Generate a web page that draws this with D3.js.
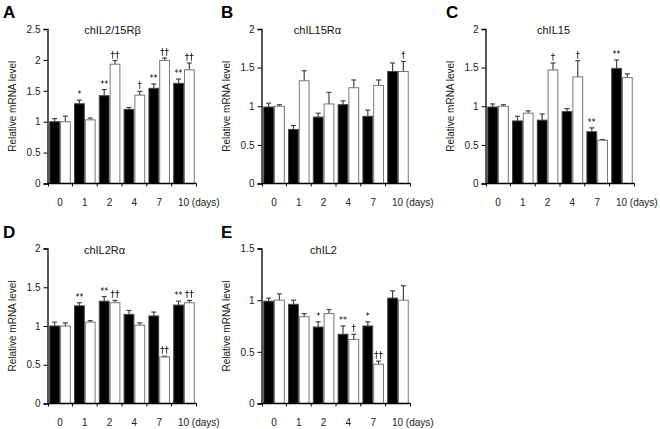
<!DOCTYPE html>
<html><head><meta charset="utf-8">
<script src="https://cdn.jsdelivr.net/npm/d3@7"></script>
<style>body{margin:0;background:#fff}svg{display:block;font-family:"Liberation Sans",Arial,sans-serif}.sig{opacity:0.999;will-change:transform}</style>
</head><body><svg id="c" width="660" height="429"></svg>
<script>
const days = ["0","1","2","4","7","10"];
const panelLetters = ["A","B","C","D","E"];
const titles = ["chIL2/15Rβ","chIL15Rα","chIL15","chIL2Rα","chIL2"];
const yMax = [2.5,2,2,2,1.5];
const yTicks = [[0,0.5,1,1.5,2,2.5],[0,0.5,1,1.5,2],[0,0.5,1,1.5,2],[0,0.5,1,1.5,2],[0,0.5,1,1.5]];

const blackVals = [
  [1.0,1.29,1.42,1.20,1.54,1.62],
  [0.99,0.70,0.86,1.02,0.87,1.45],
  [0.99,0.81,0.82,0.93,0.67,1.49],
  [1.0,1.26,1.32,1.15,1.13,1.27],
  [0.99,0.96,0.74,0.67,0.75,1.02]];
const blackErr = [
  [0.05,0.06,0.10,0.03,0.07,0.07],
  [0.05,0.05,0.05,0.05,0.08,0.11],
  [0.04,0.06,0.08,0.04,0.05,0.11],
  [0.05,0.04,0.06,0.05,0.05,0.05],
  [0.03,0.04,0.05,0.08,0.04,0.07]];
const whiteVals = [
  [1.0,1.03,1.93,1.43,1.99,1.84],
  [1.0,1.33,1.03,1.24,1.27,1.45],
  [1.0,0.91,1.47,1.38,0.56,1.37],
  [1.0,1.05,1.30,1.01,0.60,1.30],
  [1.0,0.84,0.87,0.62,0.38,1.0]];
const whiteErr = [
  [0.09,0.03,0.06,0.06,0.04,0.11],
  [0.02,0.13,0.15,0.10,0.07,0.13],
  [0.02,0.03,0.09,0.21,0.01,0.05],
  [0.04,0.02,0.03,0.03,0.01,0.03],
  [0.06,0.03,0.04,0.05,0.03,0.14]];
const blackSig = [
  ["","*","**","","**","**"],
  ["","","","","",""],
  ["","","","","**","**"],
  ["","**","**","","","**"],
  ["","","*","**","*",""]];
const whiteSig = [
  ["","","††","†","††","††"],
  ["","","","","","†"],
  ["","","†","†","",""],
  ["","","††","","††","††"],
  ["","","","†","††",""]];

const layout = [
  {x:47.5, top:29, bottom:183.5, lx:3, ly:18, tdx:65},
  {x:261.5, top:29, bottom:183.5, lx:221, ly:18, tdx:56},
  {x:485.5, top:29, bottom:183.5, lx:446, ly:18, tdx:68},
  {x:47.5, top:248.5, bottom:403.5, lx:3, ly:238, tdx:57},
  {x:261.5, top:248.5, bottom:403.5, lx:221, ly:238, tdx:62}];
const W = 149;

const svg = d3.select("#c");
panelLetters.forEach((L,i)=>{
  const p = layout[i];
  const g = svg.append("g");
  const sg = g.append("g").attr("class","sig");
  const x = d3.scaleBand().domain(days).range([p.x, p.x+W]).paddingInner(0.13).paddingOuter(0.07);
  const xi = d3.scaleBand().domain(["b","w"]).range([0, x.bandwidth()]);
  const y = d3.scaleLinear().domain([0,yMax[i]]).range([p.bottom, p.top]);

  g.append("text").attr("x",p.lx).attr("y",p.ly).attr("font-size",17).attr("font-weight","bold").text(L);
  g.append("text").attr("x",p.x+p.tdx).attr("y",p.top+5).attr("text-anchor","middle").attr("font-size",11).attr("fill","#111").text(titles[i]);

  const series = [
    {k:"b", v:blackVals[i], e:blackErr[i], s:blackSig[i], fill:"#000", stroke:"#444"},
    {k:"w", v:whiteVals[i], e:whiteErr[i], s:whiteSig[i], fill:"#fff", stroke:"#777"}];
  series.forEach(se=>{
    days.forEach((d,j)=>{
      const bx = x(d)+xi(se.k), bw = xi.bandwidth();
      const cx = bx + bw/2;
      const yt = y(se.v[j]), ye = y(se.v[j]+se.e[j]);
      g.append("line").attr("x1",cx).attr("x2",cx).attr("y1",yt).attr("y2",ye).attr("stroke","#444").attr("stroke-width",1.2);
      g.append("line").attr("x1",cx-2.5).attr("x2",cx+2.5).attr("y1",ye).attr("y2",ye).attr("stroke","#444").attr("stroke-width",1.2);
      g.append("rect").attr("x",bx+0.5).attr("y",yt).attr("width",bw-1).attr("height",p.bottom-yt)
        .attr("fill",se.fill).attr("stroke",se.stroke).attr("stroke-width",1);
      if (se.s[j]) {
        sg.append("text").attr("x",cx).attr("y",ye-3).attr("text-anchor","middle")
          .attr("font-family","DejaVu Sans, sans-serif")
          .attr("font-size", se.k==="b"?8:9).attr("fill","#000").text(se.s[j]);
      }
    });
  });
  sg.raise();

  const ya = d3.axisLeft(y).tickValues(yTicks[i]).tickSize(4).tickFormat(d3.format("~g"));
  const yg = g.append("g").attr("transform",`translate(${p.x},0)`).call(ya);
  yg.select(".domain").attr("stroke","#000").attr("stroke-width",1.3);
  yg.selectAll(".tick line").attr("stroke","#000");
  yg.selectAll(".tick text").attr("font-size",10).attr("font-family","Liberation Sans, Arial, sans-serif").attr("fill","#222").attr("x",-7);

  g.append("line").attr("x1",p.x).attr("x2",p.x+W).attr("y1",p.bottom).attr("y2",p.bottom).attr("stroke","#000").attr("stroke-width",1.3);
  const bounds = days.map(d=>x(d)-x.step()*x.paddingInner()/2).concat([p.x+W]);
  bounds.forEach((bx,k)=>{
    g.append("line").attr("x1",k===0?p.x+1:bx).attr("x2",k===0?p.x+1:bx).attr("y1",p.bottom).attr("y2",p.bottom+3).attr("stroke","#000");
  });
  days.forEach((d,j)=>{
    const cx = x(d)+x.bandwidth()/2;
    const last = j===days.length-1;
    g.append("text").attr("x", last? cx-6 : cx).attr("y",p.bottom+22)
      .attr("text-anchor", last?"start":"middle").attr("font-size",10).attr("fill","#222")
      .text(last? d+" (days)" : d);
  });

  g.append("text").attr("transform",`translate(${p.x-32},${(p.top+p.bottom)/2}) rotate(-90)`)
    .attr("text-anchor","middle").attr("font-size",10).attr("fill","#222").text("Relative mRNA level");
});
</script></body></html>
